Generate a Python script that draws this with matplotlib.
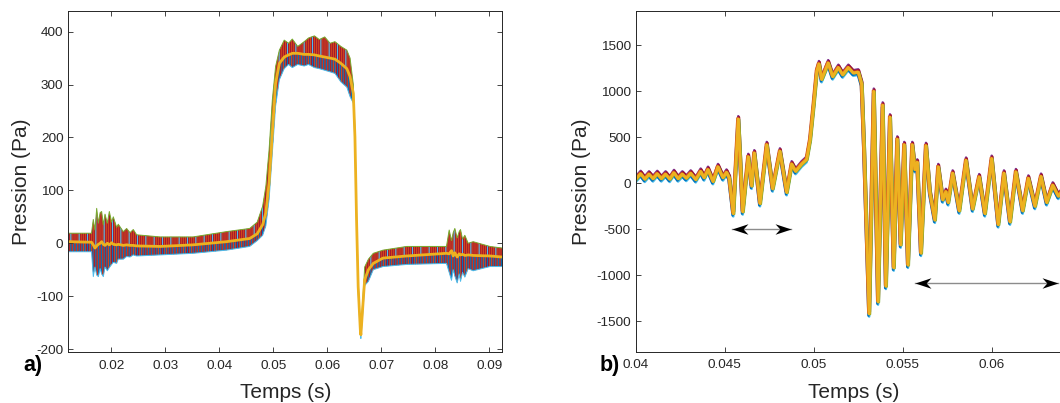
import matplotlib
matplotlib.use('Agg')
import matplotlib.pyplot as plt
import matplotlib.patheffects as pe
from matplotlib.path import Path

plt.rcParams['font.family'] = ['Liberation Sans', 'DejaVu Sans']
plt.rcParams['axes.unicode_minus'] = False
plt.rcParams['hatch.linewidth'] = 0.8

# ---- panel a : all records overlaid (envelope) + mean ----
t_a = [0.0120, 0.0163, 0.01663, 0.01694, 0.01726, 0.01757, 0.01790, 0.01818,
       0.01849, 0.01880, 0.01923, 0.01960, 0.02003, 0.02034, 0.02096, 0.02126,
       0.02219, 0.02281, 0.02343, 0.02404, 0.02466, 0.0290, 0.0351, 0.0413,
       0.0456, 0.0470, 0.0480, 0.0486, 0.0492, 0.0498, 0.0504, 0.0511,
       0.0520, 0.0528, 0.0535, 0.0545, 0.0557, 0.0565, 0.0576, 0.0585,
       0.0595, 0.0605, 0.0614, 0.0625, 0.0636, 0.0642, 0.0648, 0.0651,
       0.0654, 0.0657, 0.0661, 0.0662, 0.0666, 0.0669, 0.0676, 0.0685,
       0.0703, 0.0747, 0.08206, 0.08256, 0.08299, 0.08330, 0.08361, 0.08404,
       0.08441, 0.08466, 0.08503, 0.08546, 0.08608, 0.08700, 0.0901, 0.0924]
upper_a = [19, 19, 45, 25, 66, 38, 58, 60,
           35, 55, 38, 60, 40, 50, 30, 36,
           22, 28, 20, 26, 16, 12, 12, 22,
           28, 40, 70, 108, 177, 271, 334, 365,
           384, 378, 386, 372, 381, 388, 392, 385,
           390, 378, 381, 372, 365, 350, 300, 215,
           55, -72, -155, -165, -100, -45, -30, -19,
           -13, -6, -6, 25, 5, 20, 28, 10,
           22, 26, 8, 15, 0, 3, -6, -9]
lower_a = [-16, -16, -63, -45, -60, -63, -48, -58,
           -63, -45, -52, -46, -40, -36, -38, -30,
           -30, -25, -26, -22, -24, -22, -19, -13,
           -6, 5, 15, 33, 83, 171, 259, 309,
           330, 338, 332, 338, 335, 338, 332, 330,
           327, 324, 321, 305, 295, 277, 265, 190,
           35, -92, -172, -180, -125, -80, -72, -50,
           -44, -40, -38, -55, -70, -50, -62, -75,
           -58, -72, -55, -64, -48, -52, -44, -44]
mean_a = [3, 2, -3, -9, -5, -2, 0, 3,
          -2, -4, 0, -3, 1, -2, -3, -2,
          -4, -3, -4, -4, -5, -6, -3, 3,
          9, 18, 35, 58, 115, 208, 302, 340,
          352, 356, 359, 359, 357, 357, 356, 354,
          352, 350, 348, 340, 330, 315, 283, 201,
          44, -82, -164, -173, -113, -69, -50, -38,
          -28, -24, -19, -20, -14, -24, -18, -26,
          -20, -22, -21, -23, -22, -23, -24, -26]

# ---- panel b : zoom, mean of the records ----
t_b = [0.04000, 0.04028, 0.04051, 0.04075, 0.04097, 0.04121, 0.04144, 0.04168,
       0.04191, 0.04215, 0.04238, 0.04262, 0.04284, 0.04309, 0.04337, 0.04365,
       0.04384, 0.04406, 0.04434, 0.04462, 0.04490, 0.04510, 0.04525, 0.04548,
       0.04576, 0.04601, 0.04632, 0.04651, 0.04666, 0.04698, 0.04736, 0.04769,
       0.04810, 0.04848, 0.04876, 0.04898, 0.04932, 0.04960, 0.04979, 0.04998,
       0.05017, 0.05029, 0.05044, 0.05081, 0.05106, 0.05138, 0.05162, 0.05194,
       0.05222, 0.05250, 0.05269, 0.05282, 0.05311, 0.05337, 0.05361, 0.05387,
       0.05405, 0.05428, 0.05449, 0.05469, 0.05488, 0.05508, 0.05529, 0.05553,
       0.05568, 0.05581, 0.05602, 0.05630, 0.05652, 0.05680, 0.05699, 0.05724,
       0.05742, 0.05755, 0.05780, 0.05817, 0.05855, 0.05892, 0.05929, 0.05961,
       0.05999, 0.06036, 0.06068, 0.06102, 0.06135, 0.06173, 0.06205, 0.06242,
       0.06276, 0.06308, 0.06342, 0.06373, 0.06405]
p_b = [43, 105, 45, 100, 50, 105, 50, 100,
       45, 115, 50, 100, 55, 110, 40, 130,
       60, 150, 20, 180, 60, 120, 60, -330,
       700, -310, 290, -30, 330, -220, 420, -60,
       350, -100, 210, 130, 210, 260, 470, 830,
       1220, 1300, 1130, 1310, 1160, 1260, 1180, 1260,
       1200, 1210, 1080, 400, -1420, 1000, -1290, 850,
       -1120, 720, -920, 480, -670, 420, -890, 420,
       150, 230, -760, 410, -100, -400, 180, -180,
       -90, -210, 110, -300, 250, -280, 70, -330,
       270, -450, 110, -420, 125, -300, 55, -250,
       75, -210, -20, -140, -60]

# double arrows (t_start, t_end, pressure)
arrows_b = [(0.04542, 0.04870, -500), (0.05568, 0.06373, -1080)]

blue, red, yellow = '#0072BD', '#D95319', '#EDB120'
purple, green, cyan, dred = '#7E2F8E', '#77AC30', '#4DBEEE', '#A2142F'
txt = '#262626'

fig = plt.figure(figsize=(10.6, 4.03), dpi=100)
ax1 = fig.add_axes([68.3 / 1060, 51 / 403, 434 / 1060, 341 / 403])
ax2 = fig.add_axes([635.7 / 1060, 51.3 / 403, 445.2 / 1060, 340.7 / 403])

# panel a
ax1.fill_between(t_a, lower_a, upper_a, facecolor=red, edgecolor=dred,
                 hatch='||||||||', lw=0)
ax1.fill_between(t_a, mean_a, upper_a, facecolor='none', edgecolor=cyan,
                 hatch='||', lw=0)
ax1.fill_between(t_a, lower_a, mean_a, facecolor='none', edgecolor=blue,
                 hatch='||||||', lw=0)
ax1.plot(t_a, upper_a, color=green, lw=0.7)
ax1.plot(t_a, lower_a, color=cyan, lw=0.7)
ax1.plot(t_a, mean_a, color=yellow, lw=2)
ax1.set_xlim(0.0120, 0.0924)
ax1.set_ylim(-205.5, 439)
ax1.set_xticks([0.02, 0.03, 0.04, 0.05, 0.06, 0.07, 0.08, 0.09])
ax1.set_xticklabels(['0.02', '0.03', '0.04', '0.05', '0.06', '0.07', '0.08', '0.09'])
ax1.set_yticks([-200, -100, 0, 100, 200, 300, 400])
ax1.set_yticklabels(['-200', '-100', '0', '100', '200', '300', '400'])

# panel b
fx = [pe.SimpleLineShadow(offset=(0, 2.0), shadow_color=purple, alpha=1, linewidth=1.8),
      pe.SimpleLineShadow(offset=(0, -2.0), shadow_color=cyan, alpha=1, linewidth=1.8),
      pe.SimpleLineShadow(offset=(0.5, 1.3), shadow_color=dred, alpha=1, linewidth=1.8),
      pe.SimpleLineShadow(offset=(-0.5, -1.3), shadow_color=blue, alpha=1, linewidth=1.8),
      pe.SimpleLineShadow(offset=(0.7, -0.3), shadow_color=green, alpha=1, linewidth=1.6),
      pe.SimpleLineShadow(offset=(-0.7, 0.6), shadow_color=red, alpha=1, linewidth=1.6),
      pe.Normal()]
ax2.plot(t_b, p_b, color=yellow, lw=2.2, path_effects=fx)

head_l = Path([(0, 0), (1, 0.33), (0.7, 0), (1, -0.33), (0, 0)],
              [Path.MOVETO, Path.LINETO, Path.LINETO, Path.LINETO, Path.CLOSEPOLY])
head_r = Path([(0, 0), (-1, 0.33), (-0.7, 0), (-1, -0.33), (0, 0)],
              [Path.MOVETO, Path.LINETO, Path.LINETO, Path.LINETO, Path.CLOSEPOLY])
for t0, t1, p in arrows_b:
    ax2.plot([t0, t1], [p, p], color='#8c8c8c', lw=1)
    ax2.plot([t0], [p], marker=head_l, ms=23, color='k', mew=0)
    ax2.plot([t1], [p], marker=head_r, ms=23, color='k', mew=0)

ax2.set_xlim(0.04, 0.065)
ax2.set_ylim(-1832, 1875)
ax2.set_xticks([0.04, 0.045, 0.05, 0.055, 0.06])
ax2.set_xticklabels(['0.04', '0.045', '0.05', '0.055', '0.06'])
ax2.set_yticks([-1500, -1000, -500, 0, 500, 1000, 1500])
ax2.set_yticklabels(['-1500', '-1000', '-500', '0', '500', '1000', '1500'])

for ax in (ax1, ax2):
    ax.tick_params(direction='in', top=True, right=True, length=3.5, width=0.6,
                   colors=txt, labelsize=9.7)
    ax.tick_params(axis='x', pad=5.5)
    ax.tick_params(axis='y', pad=3.5)
    for s in ax.spines.values():
        s.set_color(txt)
        s.set_linewidth(0.7)
    ax.set_xlabel('Temps (s)', fontsize=15, color=txt)
    ax.set_ylabel('Pression (Pa)', fontsize=15, color=txt)

ax1.xaxis.set_label_coords(0.5, -0.090)
ax1.yaxis.set_label_coords(-0.086, 0.5)
ax2.xaxis.set_label_coords(0.489, -0.091)
ax2.yaxis.set_label_coords(-0.101, 0.5)

fig.text(23 / 1060, 32 / 403, 'a)', fontsize=15.5, fontweight='bold', va='baseline')
fig.text(600 / 1060, 32 / 403, 'b)', fontsize=15.5, fontweight='bold', va='baseline')

fig.savefig('out.png', dpi=100)
